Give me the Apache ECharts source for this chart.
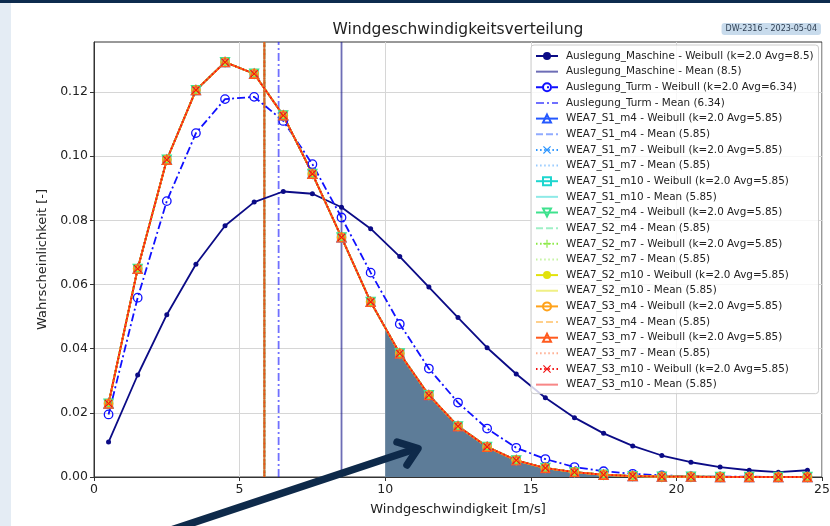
<!DOCTYPE html>
<html>
<head>
<meta charset="utf-8">
<script src="https://cdn.jsdelivr.net/npm/echarts@6/dist/echarts.min.js"></script>
<style>
  html, body { margin: 0; padding: 0; background: #ffffff; }
  #chart { width: 830px; height: 526px; }
</style>
</head>
<body>
<div id="chart"></div>
<script>
// Bin centres of the wind speed classes [m/s]
const windSpeeds = [0.5, 1.5, 2.5, 3.5, 4.5, 5.5, 6.5, 7.5, 8.5, 9.5, 10.5, 11.5, 12.5,
  13.5, 14.5, 15.5, 16.5, 17.5, 18.5, 19.5, 20.5, 21.5, 22.5, 23.5, 24.5];

// Mean wind speeds
const maschineAvg = 8.5;
const turmAvg = 6.34;
const weaAvg = 5.85;
const weibullK = 2.0;

// Probability per class
const maschineValues = [0.0109, 0.0318, 0.0506, 0.0663, 0.0783, 0.0857, 0.0890, 0.0883, 0.0841,
  0.0774, 0.0687, 0.0592, 0.0497, 0.0403, 0.0321, 0.0247, 0.0185, 0.0136, 0.0097, 0.0067,
  0.0046, 0.0031, 0.0021, 0.0015, 0.0021];
const turmValues = [0.0195, 0.0559, 0.0860, 0.1072, 0.1178, 0.1185, 0.1110, 0.0975, 0.0809,
  0.0637, 0.0477, 0.0338, 0.0232, 0.0151, 0.0091, 0.0056, 0.0031, 0.0018, 0.0010, 0.0005,
  0.0002, 0.0001, 0.0001, 0.0000, 0.0000];
const weaValues = [0.0229, 0.0649, 0.0989, 0.1206, 0.1293, 0.1257, 0.1127, 0.0945, 0.0747,
  0.0546, 0.0385, 0.0255, 0.0158, 0.0094, 0.0052, 0.0028, 0.0015, 0.0007, 0.0003, 0.0001,
  0.0001, 0.0000, 0.0000, 0.0000, 0.0000];

// Measurement runs (all share the same Weibull fit)
const runNames = ['WEA7_S1_m4', 'WEA7_S1_m7', 'WEA7_S1_m10', 'WEA7_S2_m4', 'WEA7_S2_m7',
  'WEA7_S2_m10', 'WEA7_S3_m4', 'WEA7_S3_m7', 'WEA7_S3_m10'];

// Shaded exceedance region above 10 m/s
const shadeFrom = 10;
const shadeFromValue = 0.0463;

// Axis ticks
const xTicks = [0, 5, 10, 15, 20, 25];
const yTicks = [0, 0.02, 0.04, 0.06, 0.08, 0.10, 0.12];
const yTop = 0.1356;

// ---- styling ----
const FONT = 'DejaVu Sans';
const DASHED = [7, 3];
const DOTTED = [1.5, 2.6];
const DASHDOT = [8, 3, 2, 3];

const SYM = {
  x: 'path://M1,0L5,4L9,0L10,1L6,5L10,9L9,10L5,6L1,10L0,9L4,5L0,1Z',
  plus: 'path://M4.3,0H5.7V4.3H10V5.7H5.7V10H4.3V5.7H0V4.3H4.3Z'
};

const runStyles = [
  { color: '#2458ff', rgb: '36,88,255',  marker: 'tri',     line: 'solid',  mean: DASHED },
  { color: '#2b95ff', rgb: '43,149,255', marker: 'x',       line: DOTTED,   mean: DOTTED },
  { color: '#1ed6cf', rgb: '30,214,207', marker: 'square',  line: 'solid',  mean: 'solid' },
  { color: '#3fe28e', rgb: '63,226,142', marker: 'triDown', line: 'solid',  mean: DASHED },
  { color: '#86e83e', rgb: '134,232,62', marker: 'plus',    line: DOTTED,   mean: DOTTED },
  { color: '#e2e20c', rgb: '226,226,12', marker: 'dot',     line: 'solid',  mean: 'solid' },
  { color: '#ffa21a', rgb: '255,162,26', marker: 'circle',  line: 'solid',  mean: DASHED },
  { color: '#ff5a1e', rgb: '255,90,30',  marker: 'tri',     line: 'solid',  mean: DOTTED },
  { color: '#f21010', rgb: '242,16,16',  marker: 'x',       line: DOTTED,   mean: 'solid' }
];

function markerOpts(kind, color) {
  const hollow = { color: 'rgba(255,255,255,0)', borderColor: color, borderWidth: 1.3 };
  switch (kind) {
    case 'circle':  return { symbol: 'circle', symbolSize: 8.5, itemStyle: hollow };
    case 'tri':     return { symbol: 'triangle', symbolSize: 9, itemStyle: hollow };
    case 'triDown': return { symbol: 'triangle', symbolSize: 9, symbolRotate: 180, itemStyle: hollow };
    case 'square':  return { symbol: 'rect', symbolSize: 8, itemStyle: hollow };
    case 'x':       return { symbol: SYM.x, symbolSize: 8, itemStyle: { color: color } };
    case 'plus':    return { symbol: SYM.plus, symbolSize: 9, itemStyle: { color: color } };
    default:        return { symbol: 'circle', symbolSize: 5, itemStyle: { color: color } };
  }
}

function pairs(values) {
  return windSpeeds.map((v, i) => [v, values[i]]);
}

function weibullSeries(name, avg, values, color, marker, lineType) {
  return Object.assign({
    name: name + ' - Weibull (k=' + weibullK.toFixed(1) + ' Avg=' + avg + ')',
    type: 'line',
    data: pairs(values),
    showSymbol: true,
    lineStyle: { color: color, width: 1.8, type: lineType },
    color: color,
    z: 3
  }, markerOpts(marker, color));
}

// vertical line at the mean wind speed, spanning the full value axis
function meanSeries(name, avg, rgba, lineType, width) {
  return {
    name: name + ' - Mean (' + avg + ')',
    type: 'line',
    data: [[avg, yTicks[0]], [avg, yTop]],
    symbol: 'none',
    showSymbol: false,
    color: rgba,
    itemStyle: { color: rgba, opacity: 0 },
    lineStyle: { color: rgba, width: width, type: lineType },
    z: 2
  };
}

const series = [];

// shaded area under the run curves from 10 m/s upwards
const shadeData = [[shadeFrom, shadeFromValue]];
windSpeeds.forEach((v, i) => { if (v >= shadeFrom) shadeData.push([v, weaValues[i]]); });
series.push({
  name: 'shade',
  type: 'line',
  data: shadeData,
  symbol: 'none',
  silent: true,
  lineStyle: { width: 0 },
  areaStyle: { color: '#5d7c98', opacity: 1 },
  z: 1
});

series.push(weibullSeries('Auslegung_Maschine', maschineAvg, maschineValues, '#0b0b86', 'dot', 'solid'));
series.push(meanSeries('Auslegung_Maschine', maschineAvg, 'rgba(11,11,134,0.6)', 'solid', 1.8));
series.push(weibullSeries('Auslegung_Turm', turmAvg, turmValues, '#1010ff', 'circle', DASHDOT));
series.push(meanSeries('Auslegung_Turm', turmAvg, 'rgba(16,16,255,0.6)', DASHDOT, 1.8));

runNames.forEach((name, i) => {
  const s = runStyles[i];
  series.push(weibullSeries(name, weaAvg, weaValues, s.color, s.marker, s.line));
  series.push(meanSeries(name, weaAvg, 'rgba(' + s.rgb + ',0.5)', s.mean, 2));
});

const legendNames = series.filter(s => s.name !== 'shade').map(s => {
  if (s.name.indexOf(' - Mean') >= 0) {
    return { name: s.name, itemStyle: { opacity: 0 } };
  }
  return s.name;
});

const chart = echarts.init(document.getElementById('chart'), null, { renderer: 'canvas' });

chart.setOption({
  animation: false,
  backgroundColor: '#ffffff',
  textStyle: { fontFamily: FONT },
  title: {
    text: 'Windgeschwindigkeitsverteilung',
    left: 458,
    top: 22,
    textAlign: 'center',
    padding: 0,
    textStyle: { fontFamily: FONT, fontSize: 15.5, fontWeight: 'normal', color: '#222' }
  },
  grid: {
    left: 94, top: 42, right: 8, bottom: 49,
    containLabel: false,
    outerBoundsMode: 'none',
    show: true, borderColor: '#333', borderWidth: 1, backgroundColor: 'transparent'
  },
  legend: {
    data: legendNames,
    orient: 'vertical',
    left: 531,
    top: 45,
    itemWidth: 22,
    itemHeight: 10,
    itemGap: 5.65,
    padding: [6, 5, 4, 4],
    selectedMode: false,
    backgroundColor: 'rgba(255,255,255,0.8)',
    borderColor: '#cccccc',
    borderWidth: 1,
    borderRadius: 3,
    textStyle: { fontFamily: FONT, fontSize: 10.4, color: '#222', padding: [0, 0, 0, 3] }
  },
  xAxis: {
    type: 'value',
    min: xTicks[0],
    max: xTicks[xTicks.length - 1],
    interval: 5,
    name: 'Windgeschwindigkeit [m/s]',
    nameLocation: 'middle',
    nameGap: 26,
    nameTextStyle: { fontFamily: FONT, fontSize: 13, color: '#222' },
    axisLine: { show: true, onZero: false, lineStyle: { color: '#333', width: 1 } },
    axisTick: { show: true, inside: false, length: 4, lineStyle: { color: '#333' } },
    axisLabel: { fontFamily: FONT, fontSize: 12.5, color: '#222', margin: 6 },
    splitLine: { show: true, lineStyle: { color: '#d6d6d6', width: 1 } }
  },
  yAxis: {
    type: 'value',
    min: yTicks[0],
    max: yTop,
    interval: 0.02,
    name: 'Wahrscheinlichkeit [-]',
    nameLocation: 'middle',
    nameGap: 44,
    nameTextStyle: { fontFamily: FONT, fontSize: 13, color: '#222' },
    axisLine: { show: true, lineStyle: { color: '#333', width: 1 } },
    axisTick: { show: true, inside: false, length: 4, lineStyle: { color: '#333' }, customValues: yTicks },
    axisLabel: {
      fontFamily: FONT, fontSize: 12.5, color: '#222', margin: 6,
      customValues: yTicks,
      formatter: v => v.toFixed(2)
    },
    splitLine: { show: true, lineStyle: { color: '#d6d6d6', width: 1 } }
  },
  series: series,
  graphic: [
    { type: 'rect', shape: { x: 0, y: 0, width: 11, height: 526 }, style: { fill: '#e4ecf4' }, z: 0, silent: true },
    { type: 'rect', shape: { x: 0, y: 0, width: 830, height: 3 }, style: { fill: '#0d2b4e' }, z: 10, silent: true },
    {
      type: 'text', right: 9, top: 23, z: 10, silent: true,
      style: {
        text: 'DW-2316 - 2023-05-04',
        fontFamily: FONT, fontSize: 8, fill: '#2f3f52',
        backgroundColor: '#c8dbec', padding: [2, 4], borderRadius: 3
      }
    },
    {
      type: 'polyline', z: 20, silent: true,
      shape: { points: [[150, 537], [415, 449]] },
      style: { stroke: '#0e2a4a', lineWidth: 7.5, lineCap: 'round', fill: null }
    },
    {
      type: 'polyline', z: 20, silent: true,
      shape: { points: [[397, 442], [418, 448.5], [407, 465]] },
      style: { stroke: '#0e2a4a', lineWidth: 7.5, lineCap: 'round', lineJoin: 'round', fill: null }
    }
  ]
});
</script>
</body>
</html>
